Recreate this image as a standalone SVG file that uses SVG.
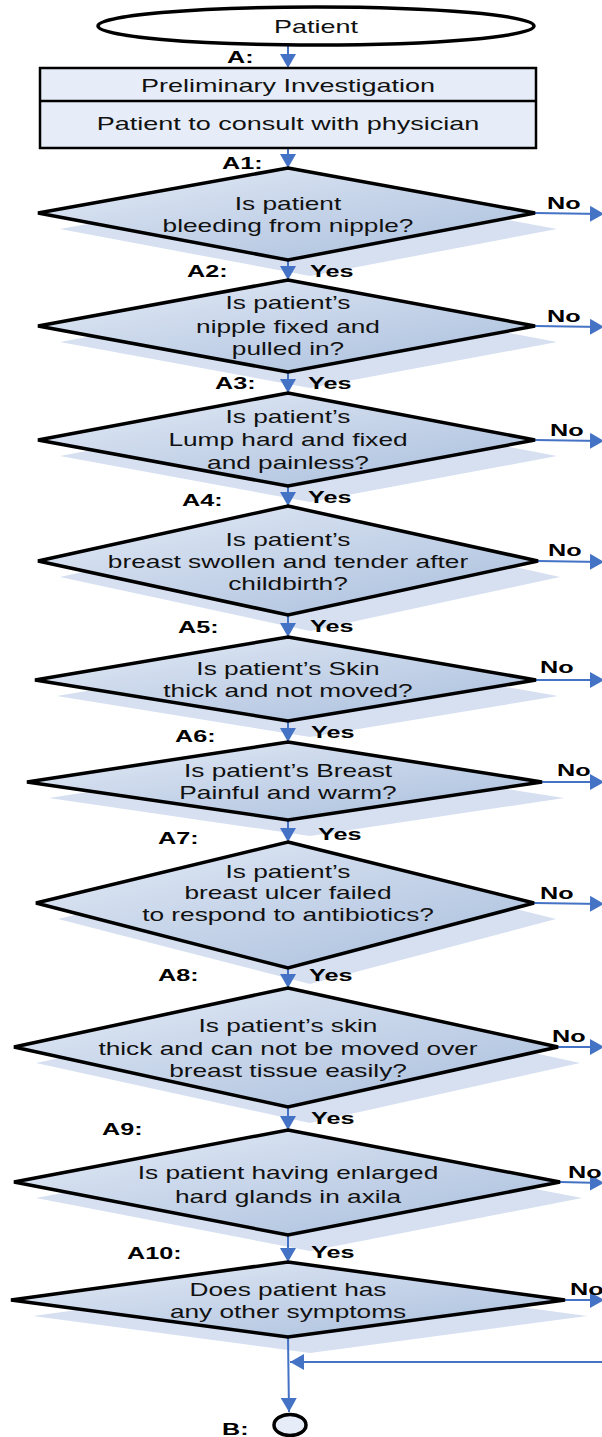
<svg xmlns="http://www.w3.org/2000/svg" width="602" height="1437" viewBox="0 0 602 1437">
  <defs>
    <linearGradient id="dfill" x1="0" y1="0" x2="1" y2="1">
      <stop offset="0" stop-color="#e4ebf6"/>
      <stop offset="1" stop-color="#a8bddc"/>
    </linearGradient>
    <marker id="ah" viewBox="0 0 14 16" refX="14" refY="8" markerWidth="14" markerHeight="16" markerUnits="userSpaceOnUse" orient="auto">
      <path d="M0,0 L14,8 L0,16 z" fill="#4472c4"/>
    </marker>
    <style>
      .shadow { fill: #d6e0f1; }
      .dia { fill: url(#dfill); stroke: #000; stroke-width: 3.5; stroke-linejoin: miter; }
      .box { fill: #e6edf8; stroke: #000; stroke-width: 2.5; }
      .term { fill: #fff; stroke: #000; stroke-width: 3.5; }
      .conn { stroke: #4472c4; stroke-width: 2; fill: none; marker-end: url(#ah); }
      .q { font-family: "Liberation Sans", Arial, sans-serif; font-size: 17.5px; fill: #111; text-anchor: middle; }
      .r { font-family: "Liberation Sans", Arial, sans-serif; font-size: 18px; fill: #111; text-anchor: middle; }
      .lbl { font-family: "Liberation Sans", Arial, sans-serif; font-size: 16.8px; font-weight: bold; fill: #000; }
    </style>
  </defs>

  <!-- drop shadows behind every decision diamond -->
  <g id="shadows" class="shadow" transform="translate(22 16)">
    <polygon points="288,168 535,213 288,260 38,213"/>
    <polygon points="288,280 535,326 288,372 38,326"/>
    <polygon points="288,393 535,440 288,486 38,440"/>
    <polygon points="288,506 538,561 288,615 38,561"/>
    <polygon points="288,637 536,680 288,721 35,680"/>
    <polygon points="288,742 542,782 288,820 27,782"/>
    <polygon points="288,842 534,903 288,968 36,903"/>
    <polygon points="288,988 558,1047 288,1107 14,1047"/>
    <polygon points="288,1130 560,1182 288,1235 14,1182"/>
    <polygon points="288,1262 565,1300 288,1337 11,1300"/>
  </g>

  <!-- connectors -->
  <g id="connectors" class="conn">
    <line x1="288" y1="46" x2="288" y2="68"/>
    <line x1="288" y1="148" x2="288" y2="168"/>
    <line x1="288" y1="260" x2="288" y2="280"/>
    <line x1="288" y1="372" x2="288" y2="393"/>
    <line x1="288" y1="486" x2="288" y2="506"/>
    <line x1="288" y1="615" x2="288" y2="637"/>
    <line x1="288" y1="721" x2="288" y2="742"/>
    <line x1="288" y1="820" x2="288" y2="842"/>
    <line x1="288" y1="968" x2="288" y2="988"/>
    <line x1="288" y1="1107" x2="288" y2="1130"/>
    <line x1="288" y1="1235" x2="288" y2="1262"/>
    <line x1="288" y1="1337" x2="289" y2="1412"/>
    <line x1="602" y1="1362" x2="290" y2="1362"/>
    <!-- "No" exits to the right -->
    <line x1="535" y1="213" x2="604" y2="214"/>
    <line x1="535" y1="326" x2="604" y2="327"/>
    <line x1="535" y1="440" x2="604" y2="441"/>
    <line x1="538" y1="561" x2="604" y2="562"/>
    <line x1="536" y1="680" x2="604" y2="680"/>
    <line x1="542" y1="782" x2="604" y2="782"/>
    <line x1="534" y1="903" x2="604" y2="904"/>
    <line x1="558" y1="1047" x2="604" y2="1047"/>
    <line x1="560" y1="1182" x2="604" y2="1183"/>
    <line x1="565" y1="1300" x2="604" y2="1300"/>
  </g>

  <g id="start">
    <ellipse class="term" cx="316" cy="26" rx="218" ry="19"/>
    <text class="r" transform="translate(316 33) scale(1.5 1)">Patient</text>
  </g>

  <g id="preliminary">
    <rect class="box" x="40" y="68" width="496" height="80"/>
    <line x1="40" y1="101" x2="536" y2="101" stroke="#000" stroke-width="2.5"/>
    <text class="r" transform="translate(288 92) scale(1.5 1)">Preliminary Investigation</text>
    <text class="r" transform="translate(288 130) scale(1.5 1)">Patient to consult with physician</text>
  </g>

  <g id="q1">
    <polygon class="dia" points="288,168 535,213 288,260 38,213"/>
    <text class="q" transform="translate(288 210) scale(1.5 1)">Is patient</text>
    <text class="q" transform="translate(288 232) scale(1.5 1)">bleeding from nipple?</text>
  </g>

  <g id="q2">
    <polygon class="dia" points="288,280 535,326 288,372 38,326"/>
    <text class="q" transform="translate(288 309) scale(1.5 1)">Is patient’s</text>
    <text class="q" transform="translate(288 333) scale(1.5 1)">nipple fixed and</text>
    <text class="q" transform="translate(288 355) scale(1.5 1)">pulled in?</text>
  </g>

  <g id="q3">
    <polygon class="dia" points="288,393 535,440 288,486 38,440"/>
    <text class="q" transform="translate(288 423) scale(1.5 1)">Is patient’s</text>
    <text class="q" transform="translate(288 446) scale(1.5 1)">Lump hard and fixed</text>
    <text class="q" transform="translate(288 469) scale(1.5 1)">and painless?</text>
  </g>

  <g id="q4">
    <polygon class="dia" points="288,506 538,561 288,615 38,561"/>
    <text class="q" transform="translate(288 546) scale(1.5 1)">Is patient’s</text>
    <text class="q" transform="translate(288 568) scale(1.5 1)">breast swollen and tender after</text>
    <text class="q" transform="translate(288 590) scale(1.5 1)">childbirth?</text>
  </g>

  <g id="q5">
    <polygon class="dia" points="288,637 536,680 288,721 35,680"/>
    <text class="q" transform="translate(288 675) scale(1.5 1)">Is patient’s Skin</text>
    <text class="q" transform="translate(288 697) scale(1.5 1)">thick and not moved?</text>
  </g>

  <g id="q6">
    <polygon class="dia" points="288,742 542,782 288,820 27,782"/>
    <text class="q" transform="translate(288 777) scale(1.5 1)">Is patient’s Breast</text>
    <text class="q" transform="translate(288 799) scale(1.5 1)">Painful and warm?</text>
  </g>

  <g id="q7">
    <polygon class="dia" points="288,842 534,903 288,968 36,903"/>
    <text class="q" transform="translate(288 878) scale(1.5 1)">Is patient’s</text>
    <text class="q" transform="translate(288 899) scale(1.5 1)">breast ulcer failed</text>
    <text class="q" transform="translate(288 921) scale(1.5 1)">to respond to antibiotics?</text>
  </g>

  <g id="q8">
    <polygon class="dia" points="288,988 558,1047 288,1107 14,1047"/>
    <text class="q" transform="translate(288 1032) scale(1.5 1)">Is patient’s skin</text>
    <text class="q" transform="translate(288 1055) scale(1.5 1)">thick and can not be moved over</text>
    <text class="q" transform="translate(288 1077) scale(1.5 1)">breast tissue easily?</text>
  </g>

  <g id="q9">
    <polygon class="dia" points="288,1130 560,1182 288,1235 14,1182"/>
    <text class="q" transform="translate(288 1179) scale(1.5 1)">Is patient having enlarged</text>
    <text class="q" transform="translate(288 1203) scale(1.5 1)">hard glands in axila</text>
  </g>

  <g id="q10">
    <polygon class="dia" points="288,1262 565,1300 288,1337 11,1300"/>
    <text class="q" transform="translate(288 1296) scale(1.5 1)">Does patient has</text>
    <text class="q" transform="translate(288 1318) scale(1.5 1)">any other symptoms</text>
  </g>

  <g id="end">
    <ellipse cx="290" cy="1425" rx="16" ry="10.5" fill="#e6edf8" stroke="#000" stroke-width="3.5"/>
  </g>

  <!-- step and branch labels -->
  <g id="labels" class="lbl">
    <text transform="translate(227 63) scale(1.5 1)">A:</text>
    <text transform="translate(222 169) scale(1.5 1)">A1:</text>
    <text transform="translate(187 277) scale(1.5 1)">A2:</text>
    <text transform="translate(215 389) scale(1.5 1)">A3:</text>
    <text transform="translate(182 506) scale(1.5 1)">A4:</text>
    <text transform="translate(178 633) scale(1.5 1)">A5:</text>
    <text transform="translate(175 742) scale(1.5 1)">A6:</text>
    <text transform="translate(158 844) scale(1.5 1)">A7:</text>
    <text transform="translate(158 981) scale(1.5 1)">A8:</text>
    <text transform="translate(102 1135) scale(1.5 1)">A9:</text>
    <text transform="translate(127 1259) scale(1.5 1)">A10:</text>
    <text transform="translate(222 1435) scale(1.5 1)">B:</text>

    <text transform="translate(310 277) scale(1.5 1)">Yes</text>
    <text transform="translate(308 389) scale(1.5 1)">Yes</text>
    <text transform="translate(308 503) scale(1.5 1)">Yes</text>
    <text transform="translate(310 632) scale(1.5 1)">Yes</text>
    <text transform="translate(311 738) scale(1.5 1)">Yes</text>
    <text transform="translate(318 840) scale(1.5 1)">Yes</text>
    <text transform="translate(309 981) scale(1.5 1)">Yes</text>
    <text transform="translate(311 1124) scale(1.5 1)">Yes</text>
    <text transform="translate(311 1258) scale(1.5 1)">Yes</text>

    <text transform="translate(547 209) scale(1.5 1)">No</text>
    <text transform="translate(547 322) scale(1.5 1)">No</text>
    <text transform="translate(550 436) scale(1.5 1)">No</text>
    <text transform="translate(548 556) scale(1.5 1)">No</text>
    <text transform="translate(540 673) scale(1.5 1)">No</text>
    <text transform="translate(557 776) scale(1.5 1)">No</text>
    <text transform="translate(540 899) scale(1.5 1)">No</text>
    <text transform="translate(552 1042) scale(1.5 1)">No</text>
    <text transform="translate(568 1178) scale(1.5 1)">No</text>
    <text transform="translate(570 1295) scale(1.5 1)">No</text>
  </g>
</svg>
